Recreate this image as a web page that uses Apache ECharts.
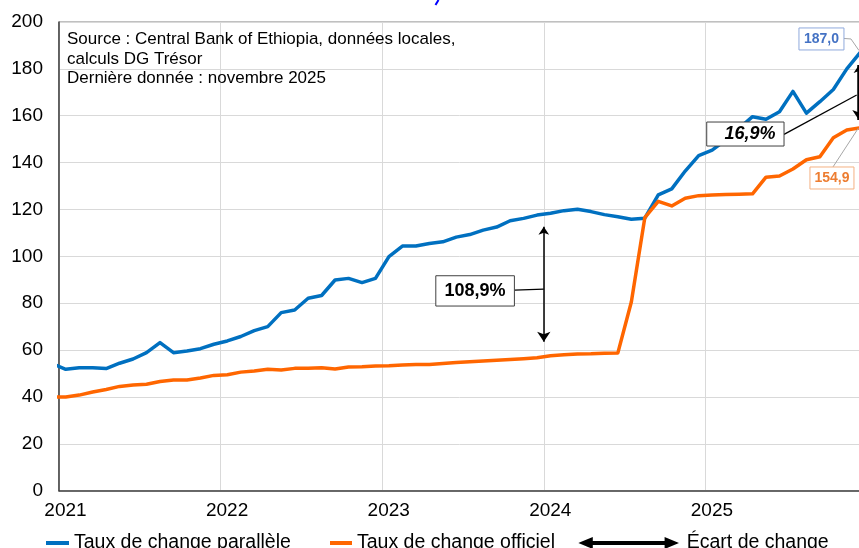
<!DOCTYPE html>
<html>
<head>
<meta charset="utf-8">
<script src="https://cdn.jsdelivr.net/npm/echarts@6/dist/echarts.min.js"></script>
<style>html,body{margin:0;padding:0;background:#fff}#c{width:859px;height:548px}</style>
</head>
<body>
<div id="c"></div>
<script>
// ---- Data ----
const months = [
  '2020-12',
  '2021-01','2021-02','2021-03','2021-04','2021-05','2021-06','2021-07','2021-08','2021-09','2021-10','2021-11','2021-12',
  '2022-01','2022-02','2022-03','2022-04','2022-05','2022-06','2022-07','2022-08','2022-09','2022-10','2022-11','2022-12',
  '2023-01','2023-02','2023-03','2023-04','2023-05','2023-06','2023-07','2023-08','2023-09','2023-10','2023-11','2023-12',
  '2024-01','2024-02','2024-03','2024-04','2024-05','2024-06','2024-07','2024-08','2024-09','2024-10','2024-11','2024-12',
  '2025-01','2025-02','2025-03','2025-04','2025-05','2025-06','2025-07','2025-08','2025-09','2025-10','2025-11','2025-12'
];
const parallelRate = [
  54.2,
  51.8, 52.5, 52.5, 52.1, 54.4, 56.2, 58.9, 63.2, 58.9, 59.6, 60.6, 62.5,
  63.9, 65.8, 68.3, 70.0, 76.0, 77.1, 82.1, 83.3, 89.9, 90.6, 88.8, 90.6,
  99.9, 104.4, 104.4, 105.5, 106.2, 108.2, 109.3, 111.2, 112.5, 115.2, 116.2, 117.6,
  118.4, 119.5, 120.1, 119.1, 117.8, 116.9, 115.8, 116.3, 126.2, 128.8, 136.4, 143.0,
  145.3, 149.6, 154.6, 159.6, 158.5, 161.7, 170.4, 161.1, 166.0, 171.2, 180.0, 187.0
];
const officialRate = [
  39.9,
  40.0, 40.8, 42.1, 43.2, 44.5, 45.1, 45.4, 46.6, 47.2, 47.2, 48.1, 49.2,
  49.5, 50.6, 51.1, 51.8, 51.5, 52.2, 52.2, 52.5, 51.9, 52.8, 52.9, 53.2,
  53.3, 53.6, 53.8, 53.9, 54.3, 54.7, 55.0, 55.3, 55.7, 56.0, 56.3, 56.7,
  57.6, 58.0, 58.3, 58.4, 58.7, 58.8, 80.5, 116.5, 123.5, 121.5, 124.8, 125.9,
  126.2, 126.4, 126.5, 126.7, 133.8, 134.3, 137.3, 141.2, 142.5, 150.6, 153.9, 154.9
];
const yearLabels = ['2021', '2022', '2023', '2024', '2025'];
const seriesNames = ['Taux de change parallèle', 'Taux de change officiel', 'Écart de change'];
// gap annotations: position in months since Jan 2021, top & bottom values, label
const gapAt = [36, 59.4];
const gapTop = [112.6, 181.7];
const gapBottom = [63.6, 158.2];
const gapLabels = ['108,9%', '16,9%'];
const sourceLines = [
  'Source : Central Bank of Ethiopia, données locales,',
  'calculs DG Trésor',
  'Dernière donnée : novembre 2025'
];

// ---- Styles / layout ----
const FONT = 'Liberation Sans, Arial, sans-serif';
const BLUE = '#0070C0';
const ORANGE = '#FF6600';
const pos = m => { const [y, mo] = m.split('-').map(Number); return (y - 2021) * 12 + (mo - 1) + 0.5; };

const chart = echarts.init(document.getElementById('c'), null, { renderer: 'canvas' });

const option = {
  animation: false,
  backgroundColor: '#fff',
  grid: { left: 59, right: -8, top: 22, bottom: 57.3, outerBoundsMode: 'none', containLabel: false,
          show: true, borderColor: '#808080', borderWidth: 1, backgroundColor: 'transparent' },
  xAxis: {
    type: 'value', min: 0, max: 60, interval: 12,
    axisLine: { show: true, onZero: false, lineStyle: { color: '#404040', width: 1.5 } },
    axisTick: { show: false },
    splitLine: { show: true, lineStyle: { color: '#d9d9d9', width: 1 } },
    axisLabel: {
      fontFamily: FONT, fontSize: 19, color: '#000', margin: 11, padding: [0, 0, 0, 13],
      formatter: v => { const i = Math.round(v / 12); return yearLabels[i] !== undefined ? yearLabels[i] : ''; }
    }
  },
  yAxis: {
    type: 'value', min: 0, max: 200, interval: 20,
    axisLine: { show: true, lineStyle: { color: '#404040', width: 1.5 } },
    axisTick: { show: false },
    splitLine: { show: true, lineStyle: { color: '#d9d9d9', width: 1 } },
    axisLabel: { fontFamily: FONT, fontSize: 19, color: '#000', margin: 16 }
  },
  legend: [
    { left: 46, top: 533, padding: 0, selectedMode: false, itemWidth: 23, itemHeight: 4,
      data: [{ name: seriesNames[0], icon: 'rect' }],
      textStyle: { fontFamily: FONT, fontSize: 19.5, color: '#000' } },
    { left: 330, top: 533, padding: 0, selectedMode: false, itemWidth: 22, itemHeight: 4,
      data: [{ name: seriesNames[1], icon: 'rect' }],
      textStyle: { fontFamily: FONT, fontSize: 19.5, color: '#000' } },
    { left: 580, top: 533, padding: 0, selectedMode: false, itemWidth: 106, itemHeight: 9,
      data: [{ name: seriesNames[2], icon: 'path://M0,5L12,0L12,4L94,4L94,0L106,5L94,10L94,6L12,6L12,10Z', itemStyle: { color: '#000' } }],
      textStyle: { fontFamily: FONT, fontSize: 19.5, color: '#000' } }
  ],
  series: [
    { name: seriesNames[0], type: 'line', clip: true, symbol: 'none', showSymbol: false,
      data: months.map((m, i) => [pos(m), parallelRate[i]]),
      lineStyle: { color: BLUE, width: 3.5, join: 'round' }, itemStyle: { color: BLUE }, z: 3 },
    { name: seriesNames[1], type: 'line', clip: true, symbol: 'none', showSymbol: false,
      data: months.map((m, i) => [pos(m), officialRate[i]]),
      lineStyle: { color: ORANGE, width: 3.5, join: 'round' }, itemStyle: { color: ORANGE }, z: 4 },
    { name: seriesNames[2], type: 'lines', coordinateSystem: 'cartesian2d', silent: true, z: 6,
      symbol: ['arrow', 'arrow'], symbolSize: [8, 10],
      itemStyle: { color: '#000' },
      lineStyle: { color: '#000', width: 1.5, opacity: 1, curveness: 0 },
      data: gapAt.map((x, i) => ({ coords: [[x, gapTop[i]], [x, gapBottom[i]]], lineStyle: { width: i === 0 ? 1.5 : 3.5 } })) }
  ]
};
chart.setOption(option);

// ---- Annotations (positioned from the data through the chart's scales) ----
const px = (x, y) => chart.convertToPixel({ gridIndex: 0 }, [x, y]);
const fmt = v => v.toFixed(1).replace('.', ',');
const graphics = [];

// Source text
graphics.push({ type: 'text', left: 67, top: 30, z: 10, silent: true,
  style: { text: sourceLines.join('\n'), font: '17px ' + FONT, fill: '#000', lineHeight: 19.5 } });

// Cropped title fragment at top
graphics.push({ type: 'line', silent: true, z: 10, shape: { x1: 438.5, y1: 0, x2: 435.5, y2: 5 }, style: { stroke: '#0000ff', lineWidth: 2 } });

// Gap labels
const gapLayout = [
  { dx: -108, dy: -8.5, w: 78.6, h: 30.3, tx: 0, from: [-29.4, 5.8], to: [0, 4.8], font: 'bold 18px ' + FONT },
  { dx: -152.2, dy: 29.6, w: 77.3, h: 24, tx: 4.7, from: [-74.9, 42], to: [-2.2, 2.6], font: 'italic bold 18px ' + FONT }
];
gapAt.forEach((x, i) => {
  const L = gapLayout[i];
  const p = px(x, (gapTop[i] + gapBottom[i]) / 2);
  graphics.push({ type: 'line', silent: true, z: 9,
    shape: { x1: p[0] + L.from[0], y1: p[1] + L.from[1], x2: p[0] + L.to[0], y2: p[1] + L.to[1] },
    style: { stroke: '#000', lineWidth: 1.3 } });
  graphics.push({ type: 'rect', silent: true, z: 10,
    shape: { x: p[0] + L.dx, y: p[1] + L.dy, width: L.w, height: L.h },
    style: { fill: '#fff', stroke: '#404040', lineWidth: 1 } });
  graphics.push({ type: 'text', silent: true, z: 11,
    x: p[0] + L.dx + L.w / 2 + L.tx, y: p[1] + L.dy + L.h / 2,
    style: { text: gapLabels[i], font: L.font, fill: '#000', align: 'center', verticalAlign: 'middle' } });
});

// Last-value labels
const lastIdx = months.length - 1;
const lastX = pos(months[lastIdx]);
const valueLabels = [
  { v: parallelRate[lastIdx], color: '#4472C4', border: '#8FAADC', dx: -61.3, dy: -24.5, w: 45, h: 22,
    leader: [[-16.3, -14], [-9.3, -13.5], [-1.3, -2]] },
  { v: officialRate[lastIdx], color: '#ED7D31', border: '#F4B183', dx: -50.3, dy: 39.3, w: 44, h: 22,
    leader: [[-27.3, 39.3], [-2, 0.6]] }
];
valueLabels.forEach(L => {
  const p = px(lastX, L.v);
  graphics.push({ type: 'polyline', silent: true, z: 9,
    shape: { points: L.leader.map(d => [p[0] + d[0], p[1] + d[1]]) },
    style: { stroke: '#A6A6A6', lineWidth: 1, fill: null } });
  graphics.push({ type: 'rect', silent: true, z: 10,
    shape: { x: p[0] + L.dx, y: p[1] + L.dy, width: L.w, height: L.h },
    style: { fill: '#fff', stroke: L.border, lineWidth: 1 } });
  graphics.push({ type: 'text', silent: true, z: 11,
    x: p[0] + L.dx + L.w / 2, y: p[1] + L.dy + L.h / 2,
    style: { text: fmt(L.v), font: 'bold 14px ' + FONT, fill: L.color, align: 'center', verticalAlign: 'middle' } });
});

chart.setOption({ graphic: graphics });
</script>
</body>
</html>
